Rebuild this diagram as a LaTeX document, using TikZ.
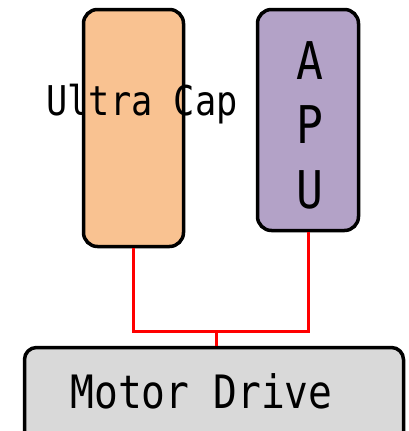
\documentclass[tikz,border=0pt]{standalone}
\usepackage{fontspec}
\newfontfamily\diagfont[FakeStretch=0.86]{DejaVu Sans Mono}
\definecolor{capfill}{HTML}{F9C291}
\definecolor{apufill}{HTML}{B3A2C7}
\definecolor{drivefill}{HTML}{D9D9D9}
\begin{document}
\begin{tikzpicture}[x=1pt,y=-1pt, every node/.style={font=\diagfont,align=center,inner sep=0pt},
  block/.style={draw=black,line width=3.5pt,rounded corners=14pt},
  wire/.style={draw=red,line width=3pt}]
 \clip (0,0) rectangle (408,431);
 \node[block,fill=capfill,minimum width=100pt,minimum height=237pt] (ucap) at (133.5,128) {};
 \node[block,fill=apufill,minimum width=101pt,minimum height=221pt] (apu) at (308,120) {};
 \node[block,fill=drivefill,minimum width=379pt,minimum height=100pt,rounded corners=12pt] (motor) at (214,397.5) {};
 \node[font=\diagfont\fontsize{41}{49}\selectfont] (ucaptext) at (142,104) {Ultra Cap};
 \node[font=\diagfont\fontsize{52}{64.5}\selectfont] (aputext) at (310,125) {A\\P\\U};
 \node[font=\diagfont\fontsize{46}{54}\selectfont] (motortext) at (201.5,391) {Motor Drive};
 \coordinate (bus) at (216,331.5);
 \draw[wire] (ucap.south) |- (bus) -| (apu.south);
 \draw[wire] (bus) -- (bus |- motor.north);
\end{tikzpicture}
\end{document}
